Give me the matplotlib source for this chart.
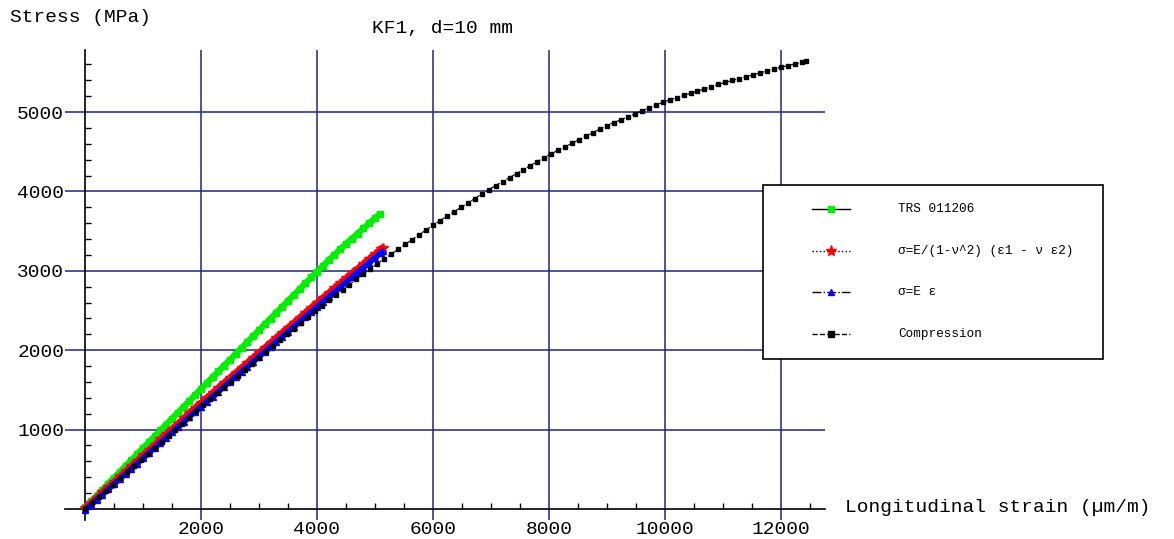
import matplotlib
matplotlib.use("Agg")
import matplotlib.pyplot as plt
from matplotlib.lines import Line2D
from matplotlib.patches import Rectangle
from matplotlib.ticker import MultipleLocator, FixedLocator

plt.rcParams['font.family'] = ['Liberation Mono', 'DejaVu Sans Mono']

# ---- data -------------------------------------------------------------
# TRS 011206 (green squares)
trs_strain = [0, 100, 200, 300, 400, 500, 600, 700, 800, 900, 1000, 1100, 1200, 1300, 1400,
              1500, 1600, 1700, 1800, 1900, 2000, 2100, 2200, 2300, 2400, 2500, 2600, 2700,
              2800, 2900, 3000, 3100, 3200, 3300, 3400, 3500, 3600, 3700, 3800, 3900, 4000,
              4100, 4200, 4300, 4400, 4500, 4600, 4700, 4800, 4900, 5000, 5090]
trs_stress = [20, 95, 169, 244, 318, 393, 467, 542, 616, 691, 765, 840, 914, 989, 1063,
              1138, 1212, 1287, 1361, 1436, 1510, 1584, 1658, 1732, 1806, 1880, 1954, 2028,
              2102, 2176, 2250, 2324, 2398, 2472, 2546, 2620, 2694, 2768, 2842, 2916, 2990,
              3060, 3130, 3200, 3270, 3340, 3404, 3469, 3533, 3598, 3662, 3720]

# sigma = E/(1-nu^2) (eps1 - nu eps2) (red stars)
biax_strain = [0, 100, 200, 300, 400, 500, 600, 700, 800, 900, 1000, 1100, 1200, 1300, 1400,
               1500, 1600, 1700, 1800, 1900, 2000, 2100, 2200, 2300, 2400, 2500, 2600, 2700,
               2800, 2900, 3000, 3100, 3200, 3300, 3400, 3500, 3600, 3700, 3800, 3900, 4000,
               4100, 4200, 4300, 4400, 4500, 4600, 4700, 4800, 4900, 5000, 5100, 5130]
biax_stress = [10, 77, 143, 210, 276, 343, 409, 476, 542, 609, 675, 742, 808, 875, 941,
               1008, 1074, 1141, 1207, 1274, 1340, 1403, 1466, 1529, 1592, 1655, 1718, 1781,
               1844, 1907, 1970, 2033, 2096, 2159, 2222, 2285, 2348, 2411, 2474, 2537, 2600,
               2661, 2722, 2783, 2844, 2905, 2966, 3027, 3088, 3149, 3210, 3271, 3290]

# sigma = E eps (blue triangles)
uni_strain = [0, 100, 200, 300, 400, 500, 600, 700, 800, 900, 1000, 1100, 1200, 1300, 1400,
              1500, 1600, 1700, 1800, 1900, 2000, 2100, 2200, 2300, 2400, 2500, 2600, 2700,
              2800, 2900, 3000, 3100, 3200, 3300, 3400, 3500, 3600, 3700, 3800, 3900, 4000,
              4100, 4200, 4300, 4400, 4500, 4600, 4700, 4800, 4900, 5000, 5100, 5140]
uni_stress = [-15, 50, 116, 181, 246, 311, 377, 442, 507, 572, 638, 703, 768, 833, 899,
              964, 1029, 1094, 1160, 1225, 1290, 1353, 1416, 1478, 1541, 1604, 1667, 1729,
              1792, 1855, 1918, 1980, 2043, 2106, 2169, 2231, 2294, 2357, 2420, 2482, 2545,
              2607, 2669, 2730, 2792, 2854, 2916, 2978, 3039, 3101, 3163, 3225, 3250]

# Compression test (black squares)
comp_strain = [0, 120, 240, 360, 480, 600, 720, 840, 960, 1080, 1200, 1320, 1440, 1560, 1680,
               1800, 1920, 2040, 2160, 2280, 2400, 2520, 2640, 2760, 2880, 3000, 3120, 3240,
               3360, 3480, 3600, 3720, 3840, 3960, 4080, 4200, 4320, 4440, 4560, 4680, 4800,
               4920, 5040, 5160, 5280, 5400, 5520, 5640, 5760, 5880, 6000, 6120, 6240, 6360,
               6480, 6600, 6720, 6840, 6960, 7080, 7200, 7320, 7440, 7560, 7680, 7800, 7920,
               8040, 8160, 8280, 8400, 8520, 8640, 8760, 8880, 9000, 9120, 9240, 9360, 9480,
               9600, 9720, 9840, 9960, 10080, 10200, 10320, 10440, 10560, 10680, 10800, 10920,
               11040, 11160, 11280, 11400, 11520, 11640, 11760, 11880, 12000, 12120, 12240,
               12360, 12440]
comp_stress = [0, 77, 154, 230, 307, 384, 461, 538, 614, 691, 768, 845, 922, 998, 1075,
               1152, 1229, 1305, 1380, 1455, 1530, 1605, 1680, 1755, 1830, 1905, 1978, 2051,
               2125, 2198, 2271, 2344, 2417, 2491, 2559, 2626, 2693, 2759, 2826, 2892, 2959,
               3026, 3090, 3151, 3211, 3272, 3333, 3393, 3454, 3514, 3575, 3631, 3687, 3742,
               3798, 3854, 3910, 3966, 4021, 4074, 4124, 4174, 4225, 4275, 4326, 4376, 4426,
               4475, 4519, 4564, 4608, 4652, 4697, 4741, 4786, 4830, 4867, 4903, 4940, 4976,
               5013, 5050, 5086, 5123, 5153, 5181, 5208, 5236, 5264, 5291, 5319, 5347,
               5373, 5397, 5421, 5445, 5469, 5493, 5517, 5541, 5565, 5585, 5606,
               5626, 5640]

x_ticks = [2000, 4000, 6000, 8000, 10000, 12000]
y_ticks = [1000, 2000, 3000, 4000, 5000]

labels = ["TRS 011206",
          "σ=E/(1-ν^2) (ε1 - ν ε2)",
          "σ=E ε",
          "Compression"]

# ---- figure -----------------------------------------------------------
W, H = 1174, 539
fig = plt.figure(figsize=(W / 100, H / 100), dpi=100)
ax = fig.add_axes([65 / W, 1 - 520 / H, 760 / W, 470 / H])

grid_col = '#22228c'
green, red, blue = '#00ee00', '#ff0000', '#0000ff'

# dense measurement series: thick band + markers
ax.plot(trs_strain, trs_stress, color=green, lw=4.5, solid_capstyle='butt', zorder=3)
ax.plot(trs_strain, trs_stress, ls='none', marker='s', ms=5, mfc=green, mec=green, zorder=3)
ax.plot(biax_strain, biax_stress, color=red, lw=4.5, solid_capstyle='butt', zorder=3)
ax.plot(biax_strain, biax_stress, ls='none', marker='*', ms=7, mfc=red, mec=red, zorder=3)
ax.plot(uni_strain, uni_stress, color=blue, lw=4.0, solid_capstyle='butt', zorder=4)
ax.plot(uni_strain, uni_stress, ls='none', marker='^', ms=5, mfc=blue, mec=blue, zorder=4)
ax.plot(comp_strain, comp_stress, color='black', marker='s', ms=3.3, mec='black',
        lw=0.8, ls='--', zorder=5)

ax.set_xlim(-345, 12759)
ax.set_ylim(-139, 5781)

for s in ('top', 'right'):
    ax.spines[s].set_visible(False)
ax.spines['left'].set_position(('data', 0))
ax.spines['bottom'].set_position(('data', 0))
ax.spines['left'].set_linewidth(1.2)
ax.spines['bottom'].set_linewidth(1.2)

ax.xaxis.set_major_locator(FixedLocator(x_ticks))
ax.yaxis.set_major_locator(FixedLocator(y_ticks))
ax.xaxis.set_minor_locator(MultipleLocator(500))
ax.yaxis.set_minor_locator(MultipleLocator(200))
ax.set_xticklabels([str(v) for v in x_ticks])
ax.set_yticklabels([str(v) for v in y_ticks])

ax.tick_params(axis='both', which='major', length=0, labelsize=14, colors='black')
ax.tick_params(axis='x', which='major', pad=9)
ax.tick_params(axis='y', which='major', pad=15)
ax.tick_params(axis='both', which='minor', direction='in', length=4, width=1, color='black')

ax.grid(True, which='major', color=grid_col, lw=1.1)
ax.set_axisbelow(True)

# titles / axis captions
fig.text(10 / W, 1 - 18 / H, "Stress (MPa)", fontsize=14, va='center', ha='left')
fig.text(443 / W, 1 - 29 / H, "KF1, d=10 mm", fontsize=14, va='center', ha='center')
fig.text(845 / W, 1 - 508 / H, "Longitudinal strain (µm/m)", fontsize=14,
         va='center', ha='left')

# legend box
box = Rectangle((763 / W, 1 - 359 / H), 340 / W, 174 / H, transform=fig.transFigure,
                facecolor='white', edgecolor='black', lw=1.2, zorder=10)
fig.add_artist(box)

entry_y = [209, 251, 292, 334]
entry_style = [
    dict(ls='-', marker='s', mfc=green, mec=green, ms=4.5),
    dict(ls=':', marker='*', mfc=red, mec=red, ms=8),
    dict(ls='-.', marker='^', mfc=blue, mec=blue, ms=4.5),
    dict(ls='--', marker='s', mfc='black', mec='black', ms=4.5),
]
for yy, lab, st in zip(entry_y, labels, entry_style):
    yf = 1 - yy / H
    ln = Line2D([812 / W, 850 / W], [yf, yf], transform=fig.transFigure, color='black',
                lw=1.0, linestyle=st['ls'], zorder=11)
    fig.add_artist(ln)
    mk = Line2D([831 / W], [yf], transform=fig.transFigure, ls='none',
                marker=st['marker'], mfc=st['mfc'], mec=st['mec'], ms=st['ms'], zorder=12)
    fig.add_artist(mk)
    fig.text(898 / W, yf, lab, fontsize=9.2, va='center', ha='left', zorder=12)

fig.savefig("out.png", dpi=100)
